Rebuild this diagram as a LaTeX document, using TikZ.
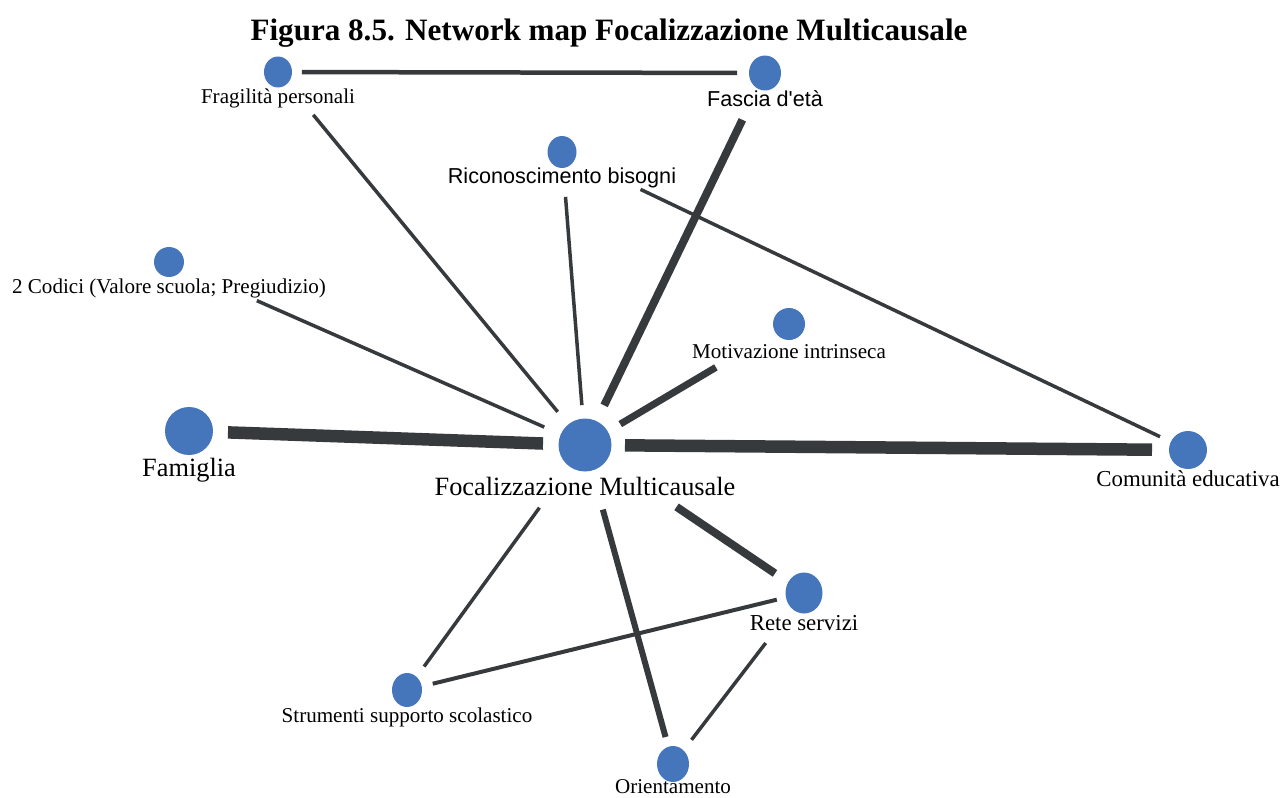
\documentclass[tikz,border=0pt]{standalone}
\usepackage{fontspec}
\setmainfont{Liberation Serif}
\newfontfamily\lsans{Liberation Sans}
\usetikzlibrary{shapes.geometric}
\definecolor{nodeblue}{RGB}{69,117,187}
\definecolor{edgegray}{RGB}{55,58,61}
\begin{document}
\begin{tikzpicture}[x=0.02cm,y=-0.02cm,
  dot/.style={ellipse,fill=nodeblue,draw=none,inner sep=0pt},
  lbl/.style={anchor=base,inner sep=0pt,font=\fontsize{12}{14}\selectfont},
  slbl/.style={anchor=base,inner sep=0pt,font=\lsans\fontsize{12.3}{14}\selectfont},
  blbl/.style={anchor=base,inner sep=0pt,font=\fontsize{15}{18}\selectfont},
  link/.style={draw=edgegray,line cap=butt}]
\useasboundingbox (0,0) rectangle (1282,798);
% title
\node[anchor=base,inner sep=0pt,font=\bfseries\fontsize{17.7}{20}\selectfont] (title) at (609,40) {Figura 8.5. Network map Focalizzazione Multicausale};
% nodes
\node[dot,minimum width=0.56cm,minimum height=0.62cm] (frag) at (278,72) {};
\node[dot,minimum width=0.64cm,minimum height=0.70cm] (fascia) at (765,73) {};
\node[dot,minimum width=0.58cm,minimum height=0.64cm] (ricon) at (562,152) {};
\node[dot,minimum width=0.60cm,minimum height=0.60cm] (codici) at (169,262) {};
\node[dot,minimum width=0.64cm,minimum height=0.64cm] (motiv) at (789,324) {};
\node[dot,minimum width=0.96cm,minimum height=0.96cm] (fam) at (189,431) {};
\node[dot,minimum width=1.06cm,minimum height=1.06cm] (focal) at (585,445) {};
\node[dot,minimum width=0.76cm,minimum height=0.76cm] (com) at (1188,450) {};
\node[dot,minimum width=0.74cm,minimum height=0.82cm] (rete) at (804,593) {};
\node[dot,minimum width=0.60cm,minimum height=0.68cm] (strum) at (407,690) {};
\node[dot,minimum width=0.64cm,minimum height=0.72cm] (orient) at (673,764) {};
% labels
\node[lbl] (fragL) at (278,103) {Fragilità personali};
\node[slbl] (fasciaL) at (765,106) {Fascia d'età};
\node[slbl] (riconL) at (562,183) {Riconoscimento bisogni};
\node[lbl] (codiciL) at (169,293) {2 Codici (Valore scuola; Pregiudizio)};
\node[lbl] (motivL) at (789,358) {Motivazione intrinseca};
\node[blbl] (famL) at (189,476) {Famiglia};
\node[blbl] (focalL) at (585,495) {Focalizzazione Multicausale};
\node[lbl,font=\fontsize{13}{15}\selectfont] (comL) at (1188,486) {Comunità educativa};
\node[lbl,font=\fontsize{13}{15}\selectfont] (reteL) at (804,630) {Rete servizi};
\node[lbl] (strumL) at (407,722) {Strumenti supporto scolastico};
\node[lbl] (orientL) at (673,793) {Orientamento};
% edges
\draw[link,line width=0.09cm,shorten <=0.48cm,shorten >=0.56cm] (frag.center) -- (fascia.center);
\draw[link,line width=0.07cm,shorten <=1.11cm,shorten >=0.86cm] (frag.center) -- (focal.center);
\draw[link,line width=0.07cm,shorten <=0.90cm,shorten >=0.80cm] (ricon.center) -- (focal.center);
\draw[link,line width=0.16cm,shorten <=1.04cm,shorten >=0.88cm] (fascia.center) -- (focal.center);
\draw[link,line width=0.07cm,shorten <=1.74cm,shorten >=0.62cm] (ricon.center) -- (com.center);
\draw[link,line width=0.07cm,shorten <=1.92cm,shorten >=0.89cm] (codici.center) -- (focal.center);
\draw[link,line width=0.14cm,shorten <=1.70cm,shorten >=0.82cm] (motiv.center) -- (focal.center);
\draw[link,line width=0.25cm,shorten <=0.78cm,shorten >=0.84cm] (fam.center) -- (focal.center);
\draw[link,line width=0.25cm,shorten <=0.80cm,shorten >=0.72cm] (focal.center) -- (com.center);
\draw[link,line width=0.16cm,shorten <=2.21cm,shorten >=0.70cm] (focal.center) -- (rete.center);
\draw[link,line width=0.07cm,shorten <=1.55cm,shorten >=0.58cm] (focal.center) -- (strum.center);
\draw[link,line width=0.12cm,shorten <=1.34cm,shorten >=0.56cm] (focal.center) -- (orient.center);
\draw[link,line width=0.08cm,shorten <=0.53cm,shorten >=0.56cm] (strum.center) -- (rete.center);
\draw[link,line width=0.07cm,shorten <=1.26cm,shorten >=0.61cm] (rete.center) -- (orient.center);
\end{tikzpicture}
\end{document}
